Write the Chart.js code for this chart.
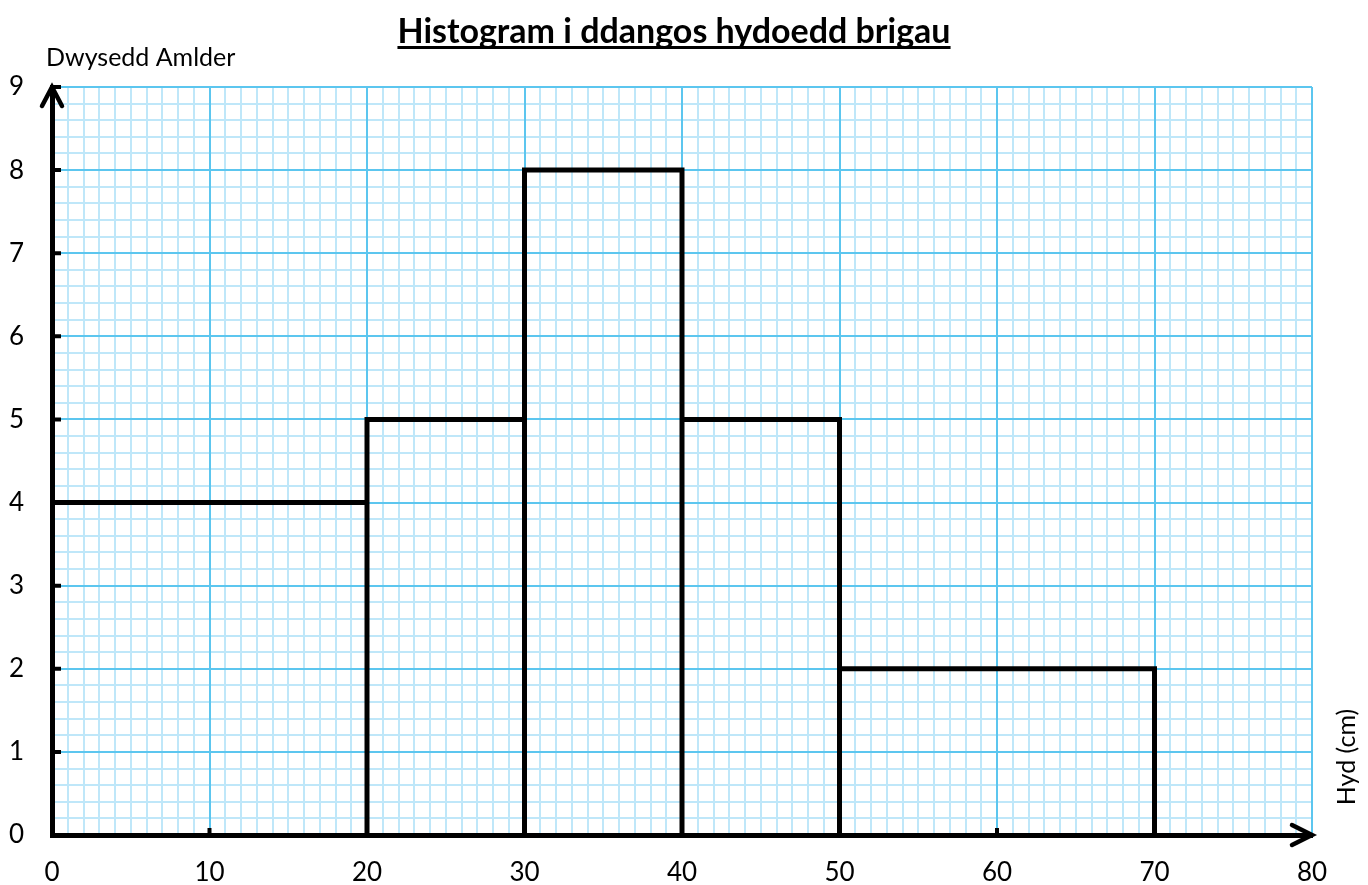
<!DOCTYPE html>
<html>
<head>
<meta charset="utf-8">
<script src="https://cdn.jsdelivr.net/npm/chart.js@4.4.1/dist/chart.umd.min.js"></script>
<style>
  body { margin: 0; background: #fff; }
  canvas { display: block; }
</style>
</head>
<body>
<canvas id="hist" width="1368" height="885"></canvas>
<script>
// dosbarthiadau (cm) a dwysedd amlder pob un
const binStart = [0, 20, 30, 40, 50];
const binEnd = [20, 30, 40, 50, 70];
const freqDensity = [4, 5, 8, 5, 2];

const titleText = 'Histogram i ddangos hydoedd brigau';
const yTitle = 'Dwysedd Amlder';
const xTitle = 'Hyd (cm)';

const FONT = 'Lato, "Open Sans", sans-serif';
const MAJOR = '#5cc6ef';
const MINOR = '#bfe7f9';

// outline of the histogram: up, across, down for each class
const outline = [];
for (let i = 0; i < binStart.length; i++) {
  outline.push({ x: binStart[i], y: 0 });
  outline.push({ x: binStart[i], y: freqDensity[i] });
  outline.push({ x: binEnd[i], y: freqDensity[i] });
  outline.push({ x: binEnd[i], y: 0 });
}

// tick marks, arrows and the text round the graph paper
const extras = {
  id: 'extras',
  afterDatasetsDraw(chart) {
    const ctx = chart.ctx;
    const x = chart.scales.x, y = chart.scales.y;
    const x0 = x.getPixelForValue(0), y0 = y.getPixelForValue(0);
    const xEnd = x.getPixelForValue(80), yEnd = y.getPixelForValue(9);
    ctx.save();
    ctx.strokeStyle = '#000';
    ctx.lineWidth = 4;
    ctx.lineCap = 'butt';
    ctx.beginPath();
    for (let v = 1; v <= 9; v++) {
      const py = y.getPixelForValue(v);
      ctx.moveTo(x0, py); ctx.lineTo(x0 + 9, py);
    }
    for (let v = 10; v <= 70; v += 10) {
      const px = x.getPixelForValue(v);
      ctx.moveTo(px, y0); ctx.lineTo(px, y0 - 7);
    }
    ctx.stroke();

    ctx.lineWidth = 4.5;
    ctx.lineCap = 'round';
    ctx.lineJoin = 'miter';
    ctx.beginPath();
    ctx.moveTo(x0 - 10, yEnd + 19); ctx.lineTo(x0, yEnd); ctx.lineTo(x0 + 10, yEnd + 19);
    ctx.moveTo(xEnd - 20, y0 - 10); ctx.lineTo(xEnd, y0); ctx.lineTo(xEnd - 20, y0 + 10);
    ctx.stroke();

    ctx.fillStyle = '#000';
    ctx.font = 'bold 34px ' + FONT;
    ctx.textAlign = 'center';
    ctx.textBaseline = 'alphabetic';
    ctx.fillText(titleText, 674, 43);
    const w = ctx.measureText(titleText).width;
    ctx.fillRect(674 - w / 2, 46, w, 3);

    ctx.font = '25px ' + FONT;
    ctx.textAlign = 'left';
    ctx.fillText(yTitle, 46, 66);

    ctx.translate(1347, 757);
    ctx.rotate(-Math.PI / 2);
    ctx.textAlign = 'center';
    ctx.textBaseline = 'middle';
    ctx.font = '25px ' + FONT;
    ctx.fillText(xTitle, 0, 0);
    ctx.restore();
  }
};

const tickFont = { family: FONT, size: 26 };

new Chart(document.getElementById('hist'), {
  type: 'scatter',
  data: {
    datasets: [{
      data: outline,
      xAxisID: 'x',
      yAxisID: 'y',
      showLine: true,
      borderColor: '#000',
      borderWidth: 5,
      borderJoinStyle: 'miter',
      pointRadius: 0,
      fill: false
    }]
  },
  options: {
    responsive: false,
    animation: false,
    layout: { padding: { top: 87, right: 56, left: 0, bottom: 0 } },
    plugins: { legend: { display: false }, tooltip: { enabled: false } },
    scales: {
      xMinor: {
        type: 'linear', position: 'bottom', min: 0, max: 80,
        ticks: { stepSize: 1, display: false },
        grid: { color: MINOR, lineWidth: 2, drawTicks: false, z: -2 },
        border: { display: false },
        afterFit(s) { s.height = 0; }
      },
      yMinor: {
        // fifths of a unit, so 45 steps over 0..9
        type: 'linear', position: 'left', min: 0, max: 45,
        ticks: { stepSize: 1, display: false },
        grid: { color: MINOR, lineWidth: 2, drawTicks: false, z: -2 },
        border: { display: false },
        afterFit(s) { s.width = 0; }
      },
      x: {
        type: 'linear', position: 'bottom', min: 0, max: 80,
        ticks: { stepSize: 10, color: '#000', font: tickFont, padding: 22, maxRotation: 0 },
        grid: { color: MAJOR, lineWidth: 2, drawTicks: false },
        border: { color: '#000', width: 5 },
        afterFit(s) { s.height = 50; }
      },
      y: {
        type: 'linear', position: 'left', min: 0, max: 9,
        ticks: { stepSize: 1, color: '#000', font: tickFont, padding: 28 },
        grid: { color: MAJOR, lineWidth: 2, drawTicks: false },
        border: { color: '#000', width: 5 },
        afterFit(s) { s.width = 52; }
      }
    }
  },
  plugins: [extras]
});
</script>
</body>
</html>
